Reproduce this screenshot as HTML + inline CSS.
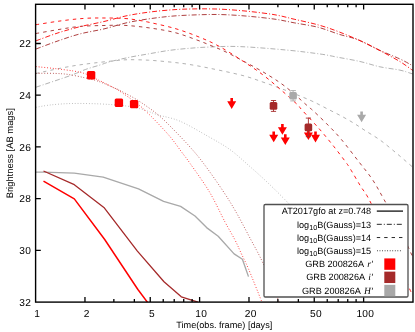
<!DOCTYPE html><html lang="en"><head><meta charset="utf-8"><title>Brightness vs Time</title><style>
html,body{margin:0;padding:0;background:#fff}
body{width:415px;height:332px;position:relative;overflow:hidden}
svg{display:block;will-change:transform}
</style></head><body>
<svg width="415" height="332" viewBox="0 0 415 332" style="position:absolute;left:0;top:0">
<rect width="415" height="332" fill="#fff"/>
<defs><clipPath id="cp"><rect x="35.6" y="4.3" width="377.4" height="297.8"/></clipPath></defs>
<g clip-path="url(#cp)" fill="none">
<path d="M36.00,87.20 C41.67,85.28 61.72,78.67 70.00,75.70 C78.28,72.73 80.70,71.18 85.70,69.40 C90.70,67.62 95.95,66.28 100.00,65.00 C104.05,63.72 105.12,62.98 110.00,61.70 C114.88,60.42 122.88,58.60 129.30,57.30 C135.72,56.00 142.08,55.02 148.50,53.90 C154.92,52.78 161.38,51.50 167.80,50.60 C174.22,49.70 179.97,49.10 187.00,48.50 C194.03,47.90 201.17,47.32 210.00,47.00 C218.83,46.68 227.33,46.10 240.00,46.60 C252.67,47.10 272.67,48.77 286.00,50.00 C299.33,51.23 311.50,52.82 320.00,54.00 C328.50,55.18 330.33,55.85 337.00,57.10 C343.67,58.35 352.85,59.88 360.00,61.50 C367.15,63.12 373.27,65.37 379.90,66.80 C386.53,68.23 394.62,69.00 399.80,70.10 C404.98,71.20 408.63,72.70 411.00,73.40 C413.37,74.10 413.50,74.15 414.00,74.30" stroke="#a9a9a9" stroke-width="0.9" stroke-dasharray="5.0 2.0 1.0 2.0" stroke-dashoffset="0"/>
<path d="M36.00,73.50 C38.33,72.98 43.93,71.65 50.00,70.40 C56.07,69.15 65.05,67.23 72.40,66.00 C79.75,64.77 86.47,63.93 94.10,63.00 C101.73,62.07 112.22,60.95 118.20,60.40 C124.18,59.85 124.95,59.73 130.00,59.70 C135.05,59.67 142.20,59.85 148.50,60.20 C154.80,60.55 161.38,61.15 167.80,61.80 C174.22,62.45 179.97,63.02 187.00,64.10 C194.03,65.18 200.67,66.38 210.00,68.30 C219.33,70.22 233.83,73.18 243.00,75.60 C252.17,78.02 257.80,80.32 265.00,82.80 C272.20,85.28 280.08,88.18 286.20,90.50 C292.32,92.82 297.15,94.82 301.70,96.70 C306.25,98.58 309.28,99.80 313.50,101.80 C317.72,103.80 322.50,106.40 327.00,108.70 C331.50,111.00 336.00,113.17 340.50,115.60 C345.00,118.03 349.83,120.77 354.00,123.30 C358.17,125.83 361.17,128.02 365.50,130.80 C369.83,133.58 375.08,136.47 380.00,140.00 C384.92,143.53 390.13,147.98 395.00,152.00 C399.87,156.02 406.03,161.38 409.20,164.10 C412.37,166.82 413.20,167.60 414.00,168.30" stroke="#a9a9a9" stroke-width="0.9" stroke-dasharray="3.4 4.0" stroke-dashoffset="0"/>
<path d="M36.00,107.30 C38.33,106.92 44.58,105.62 50.00,105.00 C55.42,104.38 61.83,103.83 68.50,103.60 C75.17,103.37 83.08,103.45 90.00,103.60 C96.92,103.75 103.85,104.08 110.00,104.50 C116.15,104.92 121.98,105.42 126.90,106.10 C131.82,106.78 135.88,107.70 139.50,108.60 C143.12,109.50 145.48,110.43 148.60,111.50 C151.72,112.57 152.97,113.38 158.20,115.00 C163.43,116.62 171.62,117.60 180.00,121.20 C188.38,124.80 200.17,131.87 208.50,136.60 C216.83,141.33 223.20,144.70 230.00,149.60 C236.80,154.50 242.88,160.37 249.30,166.00 C255.72,171.63 262.08,177.30 268.50,183.40 C274.92,189.50 282.55,197.17 287.80,202.60 C293.05,208.03 297.97,213.77 300.00,216.00" stroke="#a9a9a9" stroke-width="0.9" stroke-dasharray="0.8 2.0" stroke-dashoffset="0"/>
<path d="M36.00,49.00 C39.67,47.65 50.67,43.42 58.00,40.90 C65.33,38.38 72.33,35.90 80.00,33.90 C87.67,31.90 96.17,30.77 104.00,28.90 C111.83,27.03 119.33,24.40 127.00,22.70 C134.67,21.00 142.00,19.83 150.00,18.70 C158.00,17.57 165.83,16.58 175.00,15.90 C184.17,15.22 196.67,14.80 205.00,14.60 C213.33,14.40 217.67,14.42 225.00,14.70 C232.33,14.98 240.67,15.55 249.00,16.30 C257.33,17.05 267.48,18.12 275.00,19.20 C282.52,20.28 286.90,21.45 294.10,22.80 C301.30,24.15 310.70,25.38 318.20,27.30 C325.70,29.22 333.00,32.42 339.10,34.30 C345.20,36.18 350.78,37.30 354.80,38.60 C358.82,39.90 359.02,40.13 363.20,42.10 C367.38,44.07 373.80,47.60 379.90,50.40 C386.00,53.20 394.62,56.50 399.80,58.90 C404.98,61.30 408.63,63.55 411.00,64.80 C413.37,66.05 413.50,66.13 414.00,66.40" stroke="#a52a2a" stroke-width="0.9" stroke-dasharray="5.0 2.0 1.0 2.0" stroke-dashoffset="0"/>
<path d="M36.00,33.50 C40.00,32.80 52.67,30.48 60.00,29.30 C67.33,28.12 72.67,27.03 80.00,26.40 C87.33,25.77 96.50,25.67 104.00,25.50 C111.50,25.33 117.33,24.98 125.00,25.40 C132.67,25.82 141.67,26.80 150.00,28.00 C158.33,29.20 167.00,30.53 175.00,32.60 C183.00,34.67 191.83,38.17 198.00,40.40 C204.17,42.63 207.33,44.07 212.00,46.00 C216.67,47.93 220.80,49.50 226.00,52.00 C231.20,54.50 236.70,57.48 243.20,61.00 C249.70,64.52 257.98,68.83 265.00,73.10 C272.02,77.37 278.22,81.13 285.30,86.60 C292.38,92.07 302.68,101.72 307.50,105.90 C312.32,110.08 310.63,108.35 314.20,111.70 C317.77,115.05 324.37,121.37 328.90,126.00 C333.43,130.63 336.42,133.55 341.40,139.50 C346.38,145.45 353.63,155.03 358.80,161.70 C363.97,168.37 368.18,173.17 372.40,179.50 C376.62,185.83 379.83,192.12 384.10,199.70 C388.37,207.28 393.68,216.45 398.00,225.00 C402.32,233.55 407.33,245.17 410.00,251.00 C412.67,256.83 413.33,258.50 414.00,260.00" stroke="#a52a2a" stroke-width="0.9" stroke-dasharray="3.4 4.0" stroke-dashoffset="0"/>
<path d="M36.00,73.30 C39.17,73.32 49.58,73.20 55.00,73.40 C60.42,73.60 63.50,73.77 68.50,74.50 C73.50,75.23 80.43,76.80 85.00,77.80 C89.57,78.80 93.23,79.75 95.90,80.50 C98.57,81.25 99.23,81.63 101.00,82.30 C102.77,82.97 104.15,83.50 106.50,84.50 C108.85,85.50 113.15,87.45 115.10,88.30 C117.05,89.15 115.03,87.97 118.20,89.60 C121.37,91.23 129.45,95.38 134.10,98.10 C138.75,100.82 142.08,103.10 146.10,105.90 C150.12,108.70 154.22,111.55 158.20,114.90 C162.18,118.25 164.82,120.78 170.00,126.00 C175.18,131.22 183.68,139.93 189.30,146.20 C194.92,152.47 198.08,156.13 203.70,163.60 C209.32,171.07 217.62,182.93 223.00,191.00 C228.38,199.07 231.67,204.47 236.00,212.00 C240.33,219.53 244.50,227.68 249.00,236.20 C253.50,244.72 258.17,252.63 263.00,263.10 C267.83,273.57 275.17,292.18 278.00,299.00 C280.83,305.82 279.67,303.17 280.00,304.00" stroke="#a52a2a" stroke-width="0.9" stroke-dasharray="0.8 2.0" stroke-dashoffset="0"/>
<path d="M36.00,40.80 C39.67,39.48 50.67,35.25 58.00,32.90 C65.33,30.55 72.33,28.60 80.00,26.70 C87.67,24.80 96.17,23.33 104.00,21.50 C111.83,19.67 119.33,17.28 127.00,15.70 C134.67,14.12 142.00,13.02 150.00,12.00 C158.00,10.98 167.50,10.12 175.00,9.60 C182.50,9.08 189.17,9.02 195.00,8.90 C200.83,8.78 205.00,8.82 210.00,8.90 C215.00,8.98 218.50,8.98 225.00,9.40 C231.50,9.82 240.67,10.50 249.00,11.40 C257.33,12.30 267.48,13.50 275.00,14.80 C282.52,16.10 286.90,17.52 294.10,19.20 C301.30,20.88 310.70,22.78 318.20,24.90 C325.70,27.02 331.60,29.03 339.10,31.90 C346.60,34.77 356.40,38.98 363.20,42.10 C370.00,45.22 373.80,47.37 379.90,50.60 C386.00,53.83 394.50,58.32 399.80,61.50 C405.10,64.68 409.33,68.05 411.70,69.70 C414.07,71.35 413.62,71.12 414.00,71.40" stroke="#ff0000" stroke-width="0.9" stroke-dasharray="5.0 2.0 1.0 2.0" stroke-dashoffset="0"/>
<path d="M36.00,24.70 C40.00,24.08 52.00,22.05 60.00,21.00 C68.00,19.95 76.50,18.90 84.00,18.40 C91.50,17.90 98.17,17.98 105.00,18.00 C111.83,18.02 119.50,18.13 125.00,18.50 C130.50,18.87 133.83,19.53 138.00,20.20 C142.17,20.87 143.83,21.12 150.00,22.50 C156.17,23.88 167.00,26.15 175.00,28.50 C183.00,30.85 190.65,33.63 198.00,36.60 C205.35,39.57 211.57,42.18 219.10,46.30 C226.63,50.42 235.87,56.52 243.20,61.30 C250.53,66.08 256.88,70.30 263.10,75.00 C269.32,79.70 274.72,84.50 280.50,89.50 C286.28,94.50 294.27,101.63 297.80,105.00 C301.33,108.37 298.12,105.72 301.70,109.70 C305.28,113.68 313.98,122.82 319.30,128.90 C324.62,134.98 329.13,140.58 333.60,146.20 C338.07,151.82 343.32,158.82 346.10,162.60 C348.88,166.38 347.88,164.97 350.30,168.90 C352.72,172.83 357.37,180.90 360.60,186.20 C363.83,191.50 364.80,191.23 369.70,200.70 C374.60,210.17 383.37,228.33 390.00,243.00 C396.63,257.67 405.58,280.03 409.50,288.70 C413.42,297.37 412.83,293.95 413.50,295.00" stroke="#ff0000" stroke-width="0.9" stroke-dasharray="3.4 4.0" stroke-dashoffset="0"/>
<path d="M36.00,66.60 C39.17,66.93 48.67,67.85 55.00,68.60 C61.33,69.35 68.88,70.22 74.00,71.10 C79.12,71.98 82.05,72.60 85.70,73.90 C89.35,75.20 93.35,77.68 95.90,78.90 C98.45,80.12 99.23,80.35 101.00,81.20 C102.77,82.05 104.15,82.78 106.50,84.00 C108.85,85.22 113.15,87.47 115.10,88.50 C117.05,89.53 116.03,88.80 118.20,90.20 C120.37,91.60 124.45,94.28 128.10,96.90 C131.75,99.52 137.10,103.45 140.10,105.90 C143.10,108.35 143.88,109.48 146.10,111.60 C148.32,113.72 149.42,114.43 153.40,118.60 C157.38,122.77 165.30,131.03 170.00,136.60 C174.70,142.17 178.23,147.50 181.60,152.00 C184.97,156.50 185.55,156.93 190.20,163.60 C194.85,170.27 203.70,182.27 209.50,192.00 C215.30,201.73 220.75,214.00 225.00,222.00 C229.25,230.00 232.28,234.73 235.00,240.00 C237.72,245.27 239.05,248.78 241.30,253.60 C243.55,258.42 245.12,260.95 248.50,268.90 C251.88,276.85 259.18,295.28 261.60,301.30 C264.02,307.32 262.77,304.38 263.00,305.00" stroke="#ff0000" stroke-width="0.9" stroke-dasharray="0.8 2.0" stroke-dashoffset="0"/>
<path d="M36.00,172.10 L43.50,172.20 L74.30,173.10 L103.20,177.10 L138.50,188.90 L163.60,201.40 L180.60,206.40 L195.00,216.00 L206.60,227.60 L218.20,236.20 L234.10,253.90 L242.40,259.30 L248.50,276.60" stroke="#a9a9a9" stroke-width="1.35" stroke-linejoin="round"/>
<path d="M43.50,171.00 L74.30,184.70 L103.90,207.40 L137.40,251.10 L164.00,281.80 L181.30,296.80 L198.00,302.20" stroke="#a52a2a" stroke-width="1.3" stroke-linejoin="round"/>
<path d="M43.50,181.20 L74.30,198.90 L104.70,239.50 L137.90,289.50 L147.60,302.50" stroke="#ff0000" stroke-width="1.5" stroke-linejoin="round"/>
</g>
<g>
<path d="M230.40,98.10 h2.6 v3.20 h3.20 L231.70,108.90 L227.20,101.30 h3.20 Z" fill="#ff0000"/>
<path d="M281.10,124.00 h2.6 v3.20 h3.20 L282.40,134.80 L277.90,127.20 h3.20 Z" fill="#ff0000"/>
<path d="M272.40,131.50 h2.6 v3.20 h3.20 L273.70,142.30 L269.20,134.70 h3.20 Z" fill="#ff0000"/>
<path d="M284.00,134.20 h2.6 v3.20 h3.20 L285.30,145.00 L280.80,137.40 h3.20 Z" fill="#ff0000"/>
<path d="M307.10,129.20 h2.6 v3.20 h3.20 L308.40,140.00 L303.90,132.40 h3.20 Z" fill="#ff0000"/>
<path d="M314.20,131.60 h2.6 v3.20 h3.20 L315.50,142.40 L311.00,134.80 h3.20 Z" fill="#ff0000"/>
<rect x="86.90" y="71.00" width="8.4" height="8.4" rx="1.5" fill="#ff0000"/>
<rect x="114.70" y="98.60" width="8.4" height="8.4" rx="1.5" fill="#ff0000"/>
<rect x="129.90" y="99.90" width="8.4" height="8.4" rx="1.5" fill="#ff0000"/>
<path d="M273.50,100.50 V111.40 M270.90,100.50 h5.2 M270.90,111.40 h5.2" stroke="#a52a2a" stroke-width="0.9" fill="none"/><rect x="269.70" y="102.10" width="7.6" height="7.6" rx="1.5" fill="#a52a2a"/>
<path d="M308.40,118.10 V136.70 M305.80,118.10 h5.2 M305.80,136.70 h5.2" stroke="#a52a2a" stroke-width="0.9" fill="none"/><rect x="304.60" y="123.60" width="7.6" height="7.6" rx="1.5" fill="#a52a2a"/>
<path d="M293.10,90.60 V100.90 M290.30,90.60 h5.6 M290.30,100.90 h5.6" stroke="#a9a9a9" stroke-width="0.9" fill="none"/><rect x="289.30" y="91.90" width="7.6" height="7.6" rx="1.5" fill="#a9a9a9"/>
<path d="M360.30,111.50 h2.6 v3.20 h3.20 L361.60,122.30 L357.10,114.70 h3.20 Z" fill="#a9a9a9"/>
</g>
<rect x="35.6" y="4.3" width="377.4" height="297.8" fill="none" stroke="#000" stroke-width="1.4"/>
<path d="M84.97,302.1 v-5.2 M84.97,4.3 v5.2 M150.24,302.1 v-5.2 M150.24,4.3 v5.2 M199.61,302.1 v-5.2 M199.61,4.3 v5.2 M248.99,302.1 v-5.2 M248.99,4.3 v5.2 M314.25,302.1 v-5.2 M314.25,4.3 v5.2 M363.63,302.1 v-5.2 M363.63,4.3 v5.2 M113.85,302.1 v-3 M113.85,4.3 v3 M134.35,302.1 v-3 M134.35,4.3 v3 M163.23,302.1 v-3 M163.23,4.3 v3 M174.21,302.1 v-3 M174.21,4.3 v3 M183.72,302.1 v-3 M183.72,4.3 v3 M192.11,302.1 v-3 M192.11,4.3 v3 M277.87,302.1 v-3 M277.87,4.3 v3 M298.36,302.1 v-3 M298.36,4.3 v3 M327.24,302.1 v-3 M327.24,4.3 v3 M338.22,302.1 v-3 M338.22,4.3 v3 M347.73,302.1 v-3 M347.73,4.3 v3 M356.12,302.1 v-3 M356.12,4.3 v3 M35.6,43.50 h5.2 M35.6,95.22 h5.2 M35.6,146.94 h5.2 M35.6,198.66 h5.2 M35.6,250.38 h5.2" stroke="#000" stroke-width="1.3" fill="none"/>
<rect x="264.0" y="204.5" width="144.0" height="92.5" fill="#fff" stroke="#505050" stroke-width="1.3" rx="1.3"/>
<path d="M376.8,211.11 H403.0" stroke="#222" stroke-width="1.4"/>
<path d="M376.8,224.32 H403.0" stroke="#111" stroke-width="0.9" stroke-dasharray="5.0 2.0 1.0 2.0"/>
<path d="M376.8,237.54 H403.0" stroke="#111" stroke-width="0.9" stroke-dasharray="3.4 4.0"/>
<path d="M377.0,250.75 H400.8" stroke="#111" stroke-width="0.9" stroke-dasharray="0.85 1.7"/>
<rect x="384.30" y="258.41" width="11.0" height="11.4" fill="#ff0000"/>
<rect x="384.30" y="271.63" width="11.0" height="11.4" fill="#a52a2a"/>
<rect x="384.30" y="284.84" width="11.0" height="11.4" fill="#a9a9a9"/>
<g font-family="'Liberation Sans', sans-serif" fill="#000" text-rendering="geometricPrecision">
<text x="31.20" y="47.10" text-anchor="end" font-size="10.2" letter-spacing="0.3">22</text>
<text x="31.20" y="98.82" text-anchor="end" font-size="10.2" letter-spacing="0.3">24</text>
<text x="31.20" y="150.54" text-anchor="end" font-size="10.2" letter-spacing="0.3">26</text>
<text x="31.20" y="202.26" text-anchor="end" font-size="10.2" letter-spacing="0.3">28</text>
<text x="31.20" y="253.98" text-anchor="end" font-size="10.2" letter-spacing="0.3">30</text>
<text x="31.20" y="305.70" text-anchor="end" font-size="10.2" letter-spacing="0.3">32</text>
<text x="37.30" y="317.00" text-anchor="middle" font-size="10.2" letter-spacing="0.3">1</text>
<text x="86.67" y="317.00" text-anchor="middle" font-size="10.2" letter-spacing="0.3">2</text>
<text x="151.94" y="317.00" text-anchor="middle" font-size="10.2" letter-spacing="0.3">5</text>
<text x="201.31" y="317.00" text-anchor="middle" font-size="10.2" letter-spacing="0.3">10</text>
<text x="250.69" y="317.00" text-anchor="middle" font-size="10.2" letter-spacing="0.3">20</text>
<text x="315.95" y="317.00" text-anchor="middle" font-size="10.2" letter-spacing="0.3">50</text>
<text x="365.33" y="317.00" text-anchor="middle" font-size="10.2" letter-spacing="0.3">100</text>
<text x="224.30" y="328.00" text-anchor="middle" font-size="9.15" >Time(obs. frame) [days]</text>
<text transform="translate(12.8,153.2) rotate(-90)" text-anchor="middle" font-size="9.38">Brightness [AB mags]</text>
<text x="371.20" y="214.40" text-anchor="end" font-size="9.15" >AT2017gfo at z=0.748</text>
<text x="371.20" y="227.60" text-anchor="end" font-size="9.15" >log<tspan dy="2.4" font-size="7.2">10</tspan><tspan dy="-2.4">B(Gauss)=13</tspan></text>
<text x="371.20" y="240.80" text-anchor="end" font-size="9.15" >log<tspan dy="2.4" font-size="7.2">10</tspan><tspan dy="-2.4">B(Gauss)=14</tspan></text>
<text x="371.20" y="254.00" text-anchor="end" font-size="9.15" >log<tspan dy="2.4" font-size="7.2">10</tspan><tspan dy="-2.4">B(Gauss)=15</tspan></text>
<text x="373.30" y="267.20" text-anchor="end" font-size="9.15" >GRB 200826A <tspan dx="1.2" font-family="'Liberation Serif', serif" font-style="italic" font-size="9.5">r</tspan><tspan dx="0.6">′</tspan></text>
<text x="373.30" y="280.40" text-anchor="end" font-size="9.15" >GRB 200826A <tspan dx="1.2" font-family="'Liberation Serif', serif" font-style="italic" font-size="9.5">i</tspan><tspan dx="0.6">′</tspan></text>
<text x="373.30" y="293.60" text-anchor="end" font-size="9.15" >GRB 200826A <tspan dx="1.2" font-family="'Liberation Serif', serif" font-style="italic" font-size="9.5">H</tspan><tspan dx="0.6">′</tspan></text>
</g>
</svg>
</body></html>
